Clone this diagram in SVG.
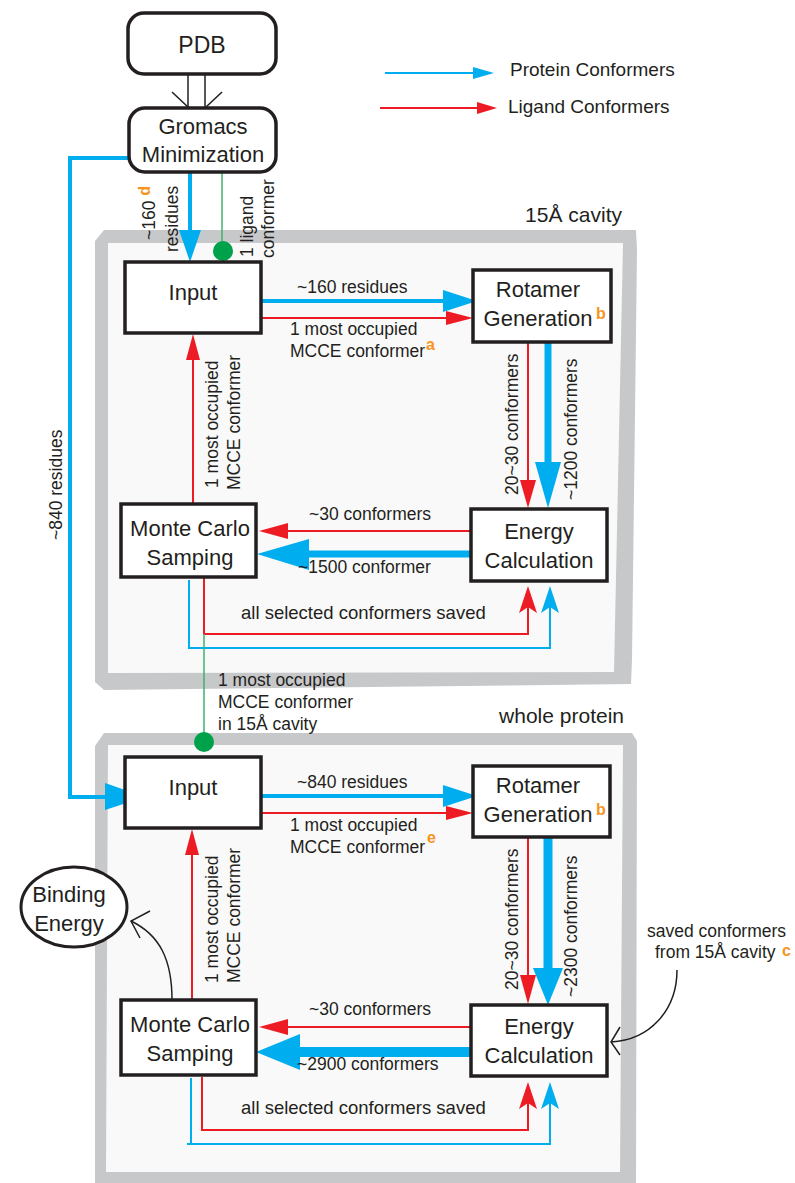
<svg xmlns="http://www.w3.org/2000/svg" width="795" height="1183" viewBox="0 0 795 1183">
<style>
text{font-family:"Liberation Sans",Arial,sans-serif;fill:#231f20}
.node{font-size:22px;text-anchor:middle}
.lbl{font-size:17.5px}
.title{font-size:21px;text-anchor:end}
.sup{font-size:16px;font-weight:bold;fill:#f7941d}
.box{fill:#fff;stroke:#231f20;stroke-width:3.5}
.frame{fill:#c7c8ca;fill-rule:evenodd}
.inner{fill:#f9f9f9}
.b{stroke:#00aeef;fill:none}
.r{stroke:#ed1c24;fill:none}
.bh{fill:#00aeef}
.rh{fill:#ed1c24}
.k{stroke:#231f20;fill:none;stroke-width:1.5}
.g{stroke:#3db36b;stroke-width:1.5}
.gd{fill:#00a14b}
</style>
<rect width="795" height="1183" fill="#fff"/>

<g id="frame-cavity">
<path class="frame" d="M95,241 L104,230 L636,230 L637,250 L632,660 L631,684 L104,690 L95,682 Z"/>
<path class="inner" d="M108,243 L623,243 L614,672 L108,673 Z"/>
<text class="title" x="622" y="222">15Å cavity</text>
</g>
<g id="frame-whole">
<path class="frame" d="M95,746 L104,733 L632,733 L637,741 L636,1183 L95,1183 Z"/>
<path class="inner" d="M108,745 L623,745 L620,1172 L106,1172 Z"/>
<text class="title" x="624" y="723">whole protein</text>
</g>

<g id="legend">
<line class="b" x1="385" y1="73" x2="476" y2="73" stroke-width="2"/>
<polygon class="bh" points="473,67 494,73 473,79"/>
<text x="510" y="76" style="font-size:19px">Protein Conformers</text>
<line class="r" x1="380" y1="108" x2="480" y2="108" stroke-width="2"/>
<polygon class="rh" points="477,102 497,108 477,114"/>
<text x="508" y="113" style="font-size:19px">Ligand Conformers</text>
</g>

<g id="connectors">
<!-- PDB to Gromacs -->
<line class="k" x1="188" y1="74" x2="188" y2="108"/>
<line class="k" x1="205" y1="74" x2="205" y2="108"/>
<line class="k" x1="172" y1="92" x2="189" y2="108"/>
<line class="k" x1="222" y1="92" x2="205" y2="108"/>
<!-- Gromacs to whole Input -->
<polyline class="b" points="129,158 70,158 70,797 110,797" stroke-width="4"/>
<polygon class="bh" points="105,783 145,797 105,810"/>
<!-- Gromacs to cavity Input -->
<line class="b" x1="190" y1="172" x2="190" y2="234" stroke-width="4"/>
<polygon class="bh" points="179,230 201,230 190,262"/>
<line class="g" x1="222" y1="172" x2="222" y2="245"/>
<circle class="gd" cx="223" cy="251" r="10"/>

<!-- cavity: Input to Rotamer -->
<line class="b" x1="261" y1="301" x2="446" y2="301" stroke-width="4"/>
<polygon class="bh" points="443,290 477,301 443,312"/>
<line class="r" x1="261" y1="318" x2="450" y2="318" stroke-width="2"/>
<polygon class="rh" points="446,311 473,318 446,325"/>
<!-- Rotamer to Energy -->
<line class="r" x1="528" y1="342" x2="528" y2="484" stroke-width="2"/>
<polygon class="rh" points="520,480 528,508 536,480"/>
<line class="b" x1="548" y1="342" x2="548" y2="466" stroke-width="7"/>
<polygon class="bh" points="535,462 548,508 561,462"/>
<!-- Energy to MC -->
<line class="r" x1="471" y1="531" x2="284" y2="531" stroke-width="2"/>
<polygon class="rh" points="288,523 259,531 288,539"/>
<line class="b" x1="471" y1="554" x2="305" y2="554" stroke-width="7"/>
<polygon class="bh" points="309,539 257,554 309,570"/>
<!-- MC loops back to Energy -->
<polyline class="r" points="204,578 204,634 528,634 528,606" stroke-width="2"/>
<polygon class="rh" points="528,586 537,613 528,607 519,613"/>
<polyline class="b" points="189,580 189,648 550,648 550,606" stroke-width="2"/>
<polygon class="bh" points="550,586 559,613 550,607 541,613"/>
<!-- MC to Input -->
<line class="r" x1="193" y1="504" x2="193" y2="356" stroke-width="2"/>
<polygon class="rh" points="186,360 193,334 200,360"/>
<!-- to whole protein -->
<line class="g" x1="204" y1="634" x2="204" y2="738"/>
<circle class="gd" cx="204" cy="742" r="10"/>

<!-- whole: Input to Rotamer -->
<line class="b" x1="261" y1="796" x2="446" y2="796" stroke-width="4"/>
<polygon class="bh" points="443,785 477,796 443,807"/>
<line class="r" x1="261" y1="813" x2="450" y2="813" stroke-width="2"/>
<polygon class="rh" points="446,806 473,813 446,820"/>
<!-- Rotamer to Energy -->
<line class="r" x1="528" y1="837" x2="528" y2="979" stroke-width="2"/>
<polygon class="rh" points="520,975 528,1004 536,975"/>
<line class="b" x1="548" y1="837" x2="548" y2="972" stroke-width="9"/>
<polygon class="bh" points="533,968 548,1005 563,968"/>
<!-- Energy to MC -->
<line class="r" x1="471" y1="1027" x2="284" y2="1027" stroke-width="2"/>
<polygon class="rh" points="288,1019 259,1027 288,1035"/>
<line class="b" x1="471" y1="1052" x2="296" y2="1052" stroke-width="10"/>
<polygon class="bh" points="300,1034 256,1052 300,1070"/>
<!-- MC loops back to Energy -->
<polyline class="r" points="202,1077 202,1130 528,1130 528,1102" stroke-width="2"/>
<polygon class="rh" points="528,1082 537,1109 528,1103 519,1109"/>
<polyline class="b" points="191,1078 191,1144 550,1144 550,1102" stroke-width="2"/>
<line class="b" x1="187" y1="1144" x2="191" y2="1144" stroke-width="2"/>
<polygon class="bh" points="550,1082 559,1109 550,1103 541,1109"/>
<!-- MC to Input -->
<line class="r" x1="192" y1="1000" x2="192" y2="852" stroke-width="2"/>
<polygon class="rh" points="185,855 192,829 199,855"/>
<!-- MC to Binding Energy -->
<path class="k" d="M172,1000 C172,960 160,935 131,921"/>
<polyline class="k" points="150,911 131,921 140,938"/>
<!-- saved conformers to Energy -->
<path class="k" d="M677,970 C677,1010 650,1040 611,1042"/>
<polyline class="k" points="620,1027 611,1042 620,1055"/>
</g>

<g id="labels">
<text class="lbl" transform="translate(155,240) rotate(-90)">~160 <tspan class="sup" dy="-5">d</tspan></text>
<text class="lbl" transform="translate(178,252) rotate(-90)">residues</text>
<text class="lbl" transform="translate(253,257) rotate(-90)">1 ligand</text>
<text class="lbl" transform="translate(274,258) rotate(-90)">conformer</text>
<text class="lbl" transform="translate(62,540) rotate(-90)">~840 residues</text>

<text class="lbl" x="297" y="293">~160 residues</text>
<text class="lbl" x="290" y="335">1 most occupied</text>
<text class="lbl" x="290" y="357">MCCE conformer</text>
<text class="sup" x="426" y="350">a</text>
<text class="lbl" transform="translate(518,495) rotate(-90)">20~30 conformers</text>
<text class="lbl" transform="translate(577,500) rotate(-90)">~1200 conformers</text>
<text class="lbl" x="309" y="520">~30 conformers</text>
<text class="lbl" x="298" y="573">~1500 conformer</text>
<text class="lbl" x="241" y="619" style="font-size:18.5px">all selected conformers saved</text>
<text class="lbl" transform="translate(218,488) rotate(-90)">1 most occupied</text>
<text class="lbl" transform="translate(240,490) rotate(-90)">MCCE conformer</text>
<text class="lbl" x="218" y="686">1 most occupied</text>
<text class="lbl" x="218" y="708">MCCE conformer</text>
<text class="lbl" x="218" y="730">in 15Å cavity</text>

<text class="lbl" x="297" y="788">~840 residues</text>
<text class="lbl" x="290" y="831">1 most occupied</text>
<text class="lbl" x="290" y="853">MCCE conformer</text>
<text class="sup" x="427" y="843">e</text>
<text class="lbl" transform="translate(518,990) rotate(-90)">20~30 conformers</text>
<text class="lbl" transform="translate(577,997) rotate(-90)">~2300 conformers</text>
<text class="lbl" x="309" y="1015">~30 conformers</text>
<text class="lbl" x="297" y="1070">~2900 conformers</text>
<text class="lbl" x="241" y="1114" style="font-size:18.5px">all selected conformers saved</text>
<text class="lbl" transform="translate(218,983) rotate(-90)">1 most occupied</text>
<text class="lbl" transform="translate(240,983) rotate(-90)">MCCE conformer</text>
<text class="lbl" x="647" y="937">saved conformers</text>
<text class="lbl" x="655" y="958">from 15Å cavity</text>
<text class="sup" x="782" y="956">c</text>
</g>

<g id="node-pdb">
<rect class="box" x="128" y="13" width="148" height="61" rx="16"/>
<text class="node" x="202" y="53" style="font-size:23px">PDB</text>
</g>
<g id="node-gromacs">
<rect class="box" x="129" y="108" width="147" height="64" rx="16"/>
<text class="node" x="203" y="134">Gromacs</text>
<text class="node" x="203" y="162">Minimization</text>
</g>

<g id="node-input-cavity">
<rect class="box" x="125" y="262" width="136" height="71"/>
<text class="node" x="193" y="300">Input</text>
</g>
<g id="node-rotamer-cavity">
<rect class="box" x="473" y="270" width="138" height="72"/>
<text class="node" x="538" y="297">Rotamer</text>
<text class="node" x="538" y="326">Generation</text>
<text class="sup" x="596" y="319">b</text>
</g>
<g id="node-mc-cavity">
<rect class="box" x="121" y="504" width="135" height="73"/>
<text class="node" x="190" y="536">Monte Carlo</text>
<text class="node" x="190" y="565">Samping</text>
</g>
<g id="node-energy-cavity">
<rect class="box" x="471" y="509" width="136" height="72"/>
<text class="node" x="539" y="539">Energy</text>
<text class="node" x="539" y="568">Calculation</text>
</g>

<g id="node-input-whole">
<rect class="box" x="125" y="757" width="136" height="71"/>
<text class="node" x="193" y="795">Input</text>
</g>
<g id="node-rotamer-whole">
<rect class="box" x="473" y="766" width="137" height="71"/>
<text class="node" x="538" y="793">Rotamer</text>
<text class="node" x="538" y="822">Generation</text>
<text class="sup" x="596" y="815">b</text>
</g>
<g id="node-mc-whole">
<rect class="box" x="121" y="1000" width="135" height="75"/>
<text class="node" x="190" y="1032">Monte Carlo</text>
<text class="node" x="190" y="1061">Samping</text>
</g>
<g id="node-energy-whole">
<rect class="box" x="471" y="1005" width="136" height="71"/>
<text class="node" x="539" y="1034">Energy</text>
<text class="node" x="539" y="1063">Calculation</text>
</g>
<g id="node-binding">
<ellipse cx="74" cy="907" rx="53" ry="40" fill="#fff" stroke="#231f20" stroke-width="3"/>
<text class="node" x="69" y="902">Binding</text>
<text class="node" x="69" y="931">Energy</text>
</g>
</svg>
